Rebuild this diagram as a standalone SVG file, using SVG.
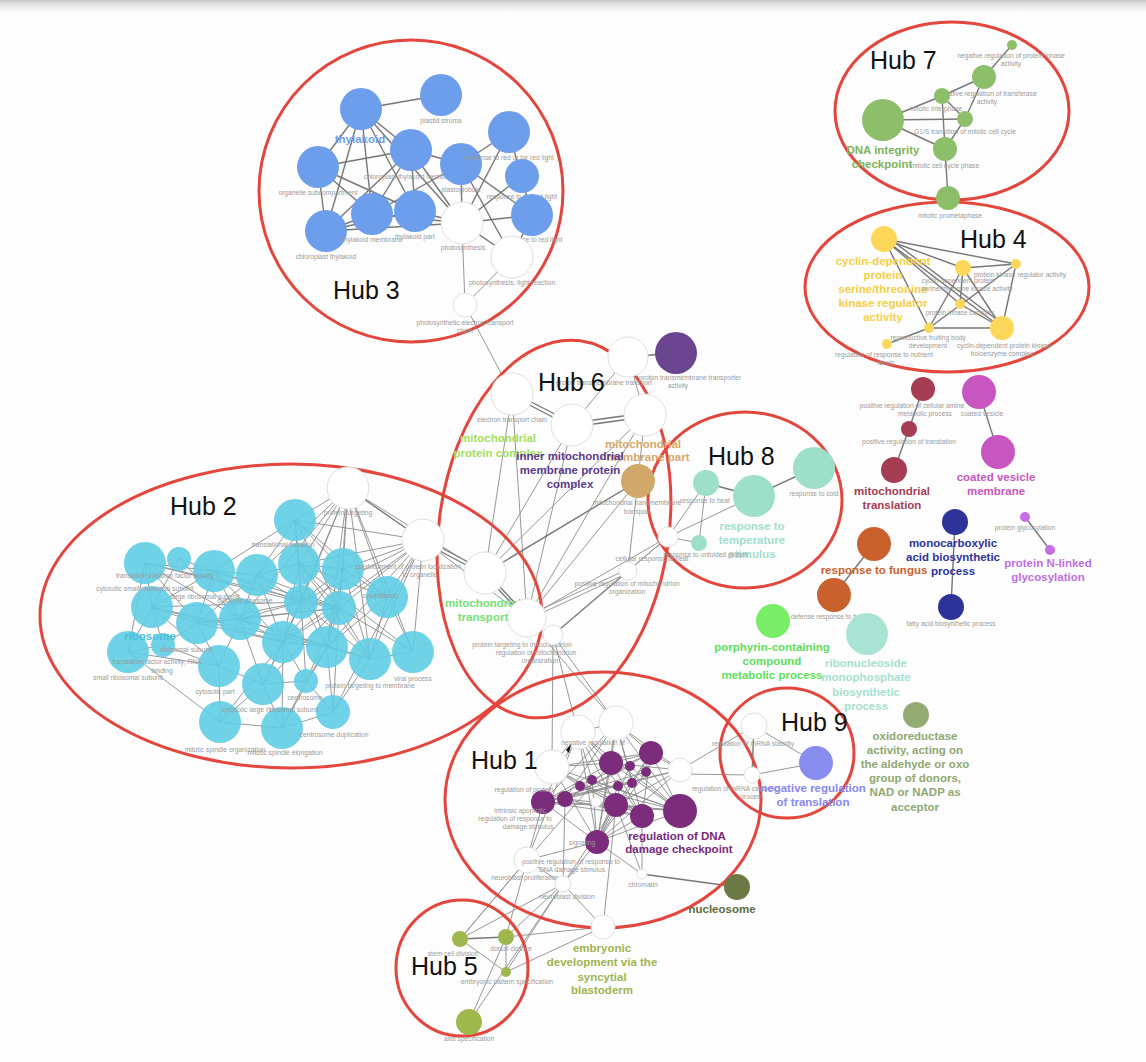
<svg xmlns="http://www.w3.org/2000/svg" width="1146" height="1062" viewBox="0 0 1146 1062">
<defs>
<linearGradient id="topshade" x1="0" y1="0" x2="0" y2="1">
<stop offset="0" stop-color="#c8c8c8"/>
<stop offset="1" stop-color="#ffffff" stop-opacity="0"/>
</linearGradient>
<style>
.e{stroke:#8c8c8c;stroke-width:0.9;fill:none}
.e2{stroke:#777;stroke-width:1.4;fill:none}
.hub{fill:none;stroke:#e3463c;stroke-width:3}
.wn{fill:#fff;stroke:#e0e0e0;stroke-width:1}
.cy{fill:#5fcde4;fill-opacity:0.9}
.bl{fill:#6d9eeb}
.pu{fill:#7b2d7c}
.gr{fill:#8dbf6a}
.ye{fill:#fcd75a}
.mi{fill:#9ddfc8}
.ol{fill:#9fb84e}
text{font-family:"Liberation Sans",Arial,Helvetica,sans-serif}
.l{font-size:6.7px;fill:#9b9b9b;text-anchor:middle}
.b{font-size:11.5px;font-weight:bold;text-anchor:middle}
.h{font-size:25px;fill:#111}
</style>
</defs>
<rect width="1146" height="1062" fill="#fdfdfd"/>
<rect width="1146" height="16" fill="url(#topshade)"/>

<g id="connectors">
<line class="e2" x1="361" y1="109" x2="441" y2="95"/>
<line class="e2" x1="361" y1="109" x2="318" y2="167"/>
<line class="e2" x1="361" y1="109" x2="411" y2="150"/>
<line class="e2" x1="361" y1="109" x2="326" y2="231"/>
<line class="e2" x1="361" y1="109" x2="372" y2="214"/>
<line class="e2" x1="361" y1="109" x2="415" y2="211"/>
<line class="e2" x1="361" y1="109" x2="462" y2="223"/>
<line class="e2" x1="318" y1="167" x2="411" y2="150"/>
<line class="e2" x1="318" y1="167" x2="326" y2="231"/>
<line class="e2" x1="318" y1="167" x2="372" y2="214"/>
<line class="e2" x1="318" y1="167" x2="415" y2="211"/>
<line class="e2" x1="411" y1="150" x2="326" y2="231"/>
<line class="e2" x1="411" y1="150" x2="372" y2="214"/>
<line class="e2" x1="411" y1="150" x2="415" y2="211"/>
<line class="e2" x1="411" y1="150" x2="461" y2="164"/>
<line class="e2" x1="411" y1="150" x2="462" y2="223"/>
<line class="e2" x1="326" y1="231" x2="372" y2="214"/>
<line class="e2" x1="326" y1="231" x2="415" y2="211"/>
<line class="e2" x1="326" y1="231" x2="462" y2="223"/>
<line class="e2" x1="372" y1="214" x2="461" y2="164"/>
<line class="e2" x1="372" y1="214" x2="462" y2="223"/>
<line class="e2" x1="415" y1="211" x2="462" y2="223"/>
<line class="e2" x1="461" y1="164" x2="462" y2="223"/>
<line class="e2" x1="461" y1="164" x2="509" y2="132"/>
<line class="e2" x1="461" y1="164" x2="512" y2="257"/>
<line class="e2" x1="461" y1="164" x2="532" y2="215"/>
<line class="e2" x1="509" y1="132" x2="532" y2="215"/>
<line class="e2" x1="509" y1="132" x2="462" y2="223"/>
<line class="e2" x1="522" y1="176" x2="462" y2="223"/>
<line class="e2" x1="532" y1="215" x2="462" y2="223"/>
<line class="e2" x1="532" y1="215" x2="512" y2="257"/>
<line class="e2" x1="462" y1="223" x2="512" y2="257"/>
<line class="e" x1="462" y1="223" x2="465" y2="305"/>
<line class="e" x1="512" y1="257" x2="465" y2="305"/>
<line class="e" x1="465" y1="305" x2="512" y2="394"/>
<line class="e2" x1="883" y1="120" x2="942" y2="96"/>
<line class="e2" x1="883" y1="120" x2="965" y2="119"/>
<line class="e2" x1="883" y1="120" x2="945" y2="149"/>
<line class="e2" x1="942" y1="96" x2="984" y2="77"/>
<line class="e2" x1="942" y1="96" x2="965" y2="119"/>
<line class="e2" x1="942" y1="96" x2="945" y2="149"/>
<line class="e2" x1="984" y1="77" x2="965" y2="119"/>
<line class="e2" x1="984" y1="77" x2="1012" y2="45"/>
<line class="e2" x1="965" y1="119" x2="945" y2="149"/>
<line class="e2" x1="945" y1="149" x2="948" y2="198"/>
<line class="e2" x1="884" y1="239" x2="963" y2="268"/>
<line class="e2" x1="884" y1="239" x2="1016" y2="264"/>
<line class="e2" x1="884" y1="239" x2="1002" y2="328"/>
<line class="e2" x1="886" y1="236" x2="1004" y2="325"/>
<line class="e2" x1="884" y1="239" x2="960" y2="304"/>
<line class="e2" x1="884" y1="239" x2="929" y2="328"/>
<line class="e2" x1="963" y1="268" x2="1016" y2="264"/>
<line class="e2" x1="963" y1="268" x2="960" y2="304"/>
<line class="e2" x1="963" y1="268" x2="1002" y2="328"/>
<line class="e2" x1="963" y1="268" x2="929" y2="328"/>
<line class="e2" x1="1016" y1="264" x2="929" y2="328"/>
<line class="e2" x1="1016" y1="264" x2="1002" y2="328"/>
<line class="e2" x1="960" y1="304" x2="1002" y2="328"/>
<line class="e2" x1="929" y1="328" x2="1002" y2="328"/>
<line class="e2" x1="929" y1="328" x2="887" y2="344"/>
<line class="e2" x1="923" y1="389" x2="909" y2="429"/>
<line class="e2" x1="909" y1="429" x2="894" y2="470"/>
<line class="e2" x1="979" y1="392" x2="998" y2="452"/>
<line class="e2" x1="955" y1="522" x2="951" y2="607"/>
<line class="e2" x1="1025" y1="517" x2="1050" y2="550"/>
<line class="e2" x1="874" y1="544" x2="834" y2="595"/>
<line class="e2" x1="512" y1="392" x2="572" y2="423"/>
<line class="e2" x1="512" y1="396" x2="572" y2="427"/>
<line class="e2" x1="572" y1="423" x2="645" y2="413"/>
<line class="e2" x1="572" y1="427" x2="645" y2="417"/>
<line class="e" x1="572" y1="425" x2="628" y2="357"/>
<line class="e2" x1="628" y1="357" x2="676" y2="353"/>
<line class="e" x1="628" y1="357" x2="645" y2="415"/>
<line class="e" x1="512" y1="394" x2="485" y2="573"/>
<line class="e" x1="512" y1="394" x2="527" y2="618"/>
<line class="e" x1="572" y1="425" x2="485" y2="573"/>
<line class="e" x1="572" y1="425" x2="527" y2="618"/>
<line class="e" x1="645" y1="415" x2="485" y2="573"/>
<line class="e" x1="645" y1="415" x2="527" y2="618"/>
<line class="e" x1="645" y1="415" x2="628" y2="571"/>
<line class="e2" x1="638" y1="481" x2="485" y2="573"/>
<line class="e" x1="638" y1="481" x2="527" y2="618"/>
<line class="e" x1="628" y1="569" x2="527" y2="616"/>
<line class="e" x1="628" y1="573" x2="527" y2="620"/>
<line class="e2" x1="628" y1="571" x2="553" y2="635"/>
<line class="e" x1="668" y1="537" x2="527" y2="618"/>
<line class="e" x1="668" y1="537" x2="553" y2="635"/>
<line class="e2" x1="485" y1="571" x2="527" y2="616"/>
<line class="e2" x1="485" y1="575" x2="527" y2="620"/>
<line class="e2" x1="423" y1="538" x2="485" y2="571"/>
<line class="e2" x1="423" y1="542" x2="485" y2="575"/>
<line class="e" x1="348" y1="488" x2="485" y2="573"/>
<line class="e" x1="423" y1="540" x2="527" y2="618"/>
<line class="e2" x1="706" y1="483" x2="754" y2="496"/>
<line class="e2" x1="754" y1="496" x2="814" y2="468"/>
<line class="e" x1="706" y1="483" x2="699" y2="543"/>
<line class="e" x1="706" y1="483" x2="668" y2="537"/>
<line class="e" x1="754" y1="496" x2="668" y2="537"/>
<line class="e" x1="699" y1="543" x2="668" y2="537"/>
<line class="e" x1="668" y1="537" x2="628" y2="571"/>
<line class="e" x1="145" y1="563" x2="214" y2="571"/>
<line class="e" x1="145" y1="563" x2="152" y2="607"/>
<line class="e" x1="145" y1="563" x2="197" y2="623"/>
<line class="e" x1="145" y1="563" x2="240" y2="619"/>
<line class="e" x1="145" y1="563" x2="301" y2="602"/>
<line class="e" x1="145" y1="563" x2="128" y2="652"/>
<line class="e" x1="179" y1="559" x2="152" y2="607"/>
<line class="e" x1="179" y1="559" x2="240" y2="619"/>
<line class="e" x1="179" y1="559" x2="214" y2="571"/>
<line class="e" x1="214" y1="571" x2="152" y2="607"/>
<line class="e" x1="214" y1="571" x2="197" y2="623"/>
<line class="e" x1="214" y1="571" x2="240" y2="619"/>
<line class="e" x1="214" y1="571" x2="301" y2="602"/>
<line class="e" x1="214" y1="571" x2="339" y2="608"/>
<line class="e" x1="214" y1="571" x2="257" y2="575"/>
<line class="e" x1="257" y1="575" x2="299" y2="564"/>
<line class="e" x1="257" y1="575" x2="197" y2="623"/>
<line class="e" x1="257" y1="575" x2="240" y2="619"/>
<line class="e" x1="257" y1="575" x2="301" y2="602"/>
<line class="e" x1="257" y1="575" x2="339" y2="608"/>
<line class="e" x1="257" y1="575" x2="283" y2="642"/>
<line class="e" x1="299" y1="564" x2="343" y2="569"/>
<line class="e" x1="299" y1="564" x2="301" y2="602"/>
<line class="e" x1="299" y1="564" x2="339" y2="608"/>
<line class="e" x1="299" y1="564" x2="283" y2="642"/>
<line class="e" x1="299" y1="564" x2="327" y2="647"/>
<line class="e" x1="299" y1="564" x2="387" y2="597"/>
<line class="e" x1="299" y1="564" x2="370" y2="659"/>
<line class="e" x1="343" y1="569" x2="301" y2="602"/>
<line class="e" x1="343" y1="569" x2="339" y2="608"/>
<line class="e" x1="343" y1="569" x2="387" y2="597"/>
<line class="e" x1="343" y1="569" x2="327" y2="647"/>
<line class="e" x1="343" y1="569" x2="370" y2="659"/>
<line class="e" x1="343" y1="569" x2="283" y2="642"/>
<line class="e" x1="295" y1="520" x2="299" y2="564"/>
<line class="e" x1="295" y1="520" x2="343" y2="569"/>
<line class="e" x1="295" y1="520" x2="301" y2="602"/>
<line class="e" x1="295" y1="520" x2="339" y2="608"/>
<line class="e" x1="295" y1="520" x2="257" y2="575"/>
<line class="e" x1="295" y1="520" x2="387" y2="597"/>
<line class="e" x1="295" y1="520" x2="214" y2="571"/>
<line class="e" x1="152" y1="607" x2="197" y2="623"/>
<line class="e" x1="152" y1="607" x2="128" y2="652"/>
<line class="e" x1="152" y1="607" x2="163" y2="645"/>
<line class="e" x1="152" y1="607" x2="301" y2="602"/>
<line class="e" x1="152" y1="607" x2="283" y2="642"/>
<line class="e" x1="152" y1="607" x2="219" y2="666"/>
<line class="e" x1="197" y1="623" x2="240" y2="619"/>
<line class="e" x1="197" y1="623" x2="301" y2="602"/>
<line class="e" x1="197" y1="623" x2="163" y2="645"/>
<line class="e" x1="197" y1="623" x2="219" y2="666"/>
<line class="e" x1="197" y1="623" x2="339" y2="608"/>
<line class="e" x1="197" y1="623" x2="283" y2="642"/>
<line class="e" x1="240" y1="619" x2="301" y2="602"/>
<line class="e" x1="240" y1="619" x2="339" y2="608"/>
<line class="e" x1="240" y1="619" x2="283" y2="642"/>
<line class="e" x1="240" y1="619" x2="219" y2="666"/>
<line class="e" x1="240" y1="619" x2="263" y2="684"/>
<line class="e" x1="240" y1="619" x2="327" y2="647"/>
<line class="e" x1="301" y1="602" x2="339" y2="608"/>
<line class="e" x1="301" y1="602" x2="283" y2="642"/>
<line class="e" x1="301" y1="602" x2="327" y2="647"/>
<line class="e" x1="301" y1="602" x2="263" y2="684"/>
<line class="e" x1="301" y1="602" x2="306" y2="681"/>
<line class="e" x1="301" y1="602" x2="370" y2="659"/>
<line class="e" x1="339" y1="608" x2="283" y2="642"/>
<line class="e" x1="339" y1="608" x2="327" y2="647"/>
<line class="e" x1="339" y1="608" x2="370" y2="659"/>
<line class="e" x1="339" y1="608" x2="413" y2="652"/>
<line class="e" x1="339" y1="608" x2="306" y2="681"/>
<line class="e" x1="339" y1="608" x2="333" y2="712"/>
<line class="e" x1="339" y1="608" x2="263" y2="684"/>
<line class="e" x1="387" y1="597" x2="327" y2="647"/>
<line class="e" x1="387" y1="597" x2="370" y2="659"/>
<line class="e" x1="387" y1="597" x2="413" y2="652"/>
<line class="e" x1="128" y1="652" x2="163" y2="645"/>
<line class="e" x1="128" y1="652" x2="219" y2="666"/>
<line class="e" x1="128" y1="652" x2="220" y2="722"/>
<line class="e" x1="163" y1="645" x2="219" y2="666"/>
<line class="e" x1="283" y1="642" x2="327" y2="647"/>
<line class="e" x1="283" y1="642" x2="263" y2="684"/>
<line class="e" x1="283" y1="642" x2="306" y2="681"/>
<line class="e" x1="283" y1="642" x2="220" y2="722"/>
<line class="e" x1="283" y1="642" x2="282" y2="728"/>
<line class="e" x1="327" y1="647" x2="370" y2="659"/>
<line class="e" x1="327" y1="647" x2="306" y2="681"/>
<line class="e" x1="327" y1="647" x2="333" y2="712"/>
<line class="e" x1="327" y1="647" x2="282" y2="728"/>
<line class="e" x1="370" y1="659" x2="413" y2="652"/>
<line class="e" x1="370" y1="659" x2="333" y2="712"/>
<line class="e" x1="219" y1="666" x2="263" y2="684"/>
<line class="e" x1="219" y1="666" x2="220" y2="722"/>
<line class="e" x1="263" y1="684" x2="306" y2="681"/>
<line class="e" x1="263" y1="684" x2="220" y2="722"/>
<line class="e" x1="263" y1="684" x2="282" y2="728"/>
<line class="e" x1="306" y1="681" x2="333" y2="712"/>
<line class="e" x1="306" y1="681" x2="282" y2="728"/>
<line class="e" x1="333" y1="712" x2="282" y2="728"/>
<line class="e" x1="220" y1="722" x2="282" y2="728"/>
<line class="e" x1="240" y1="619" x2="370" y2="659"/>
<line class="e" x1="214" y1="571" x2="283" y2="642"/>
<line class="e" x1="145" y1="563" x2="339" y2="608"/>
<line class="e" x1="152" y1="607" x2="327" y2="647"/>
<line class="e" x1="299" y1="564" x2="413" y2="652"/>
<line class="e" x1="348" y1="488" x2="299" y2="564"/>
<line class="e" x1="348" y1="488" x2="343" y2="569"/>
<line class="e" x1="348" y1="488" x2="295" y2="520"/>
<line class="e" x1="348" y1="488" x2="301" y2="602"/>
<line class="e" x1="348" y1="488" x2="339" y2="608"/>
<line class="e" x1="348" y1="488" x2="387" y2="597"/>
<line class="e" x1="348" y1="488" x2="283" y2="642"/>
<line class="e" x1="348" y1="488" x2="327" y2="647"/>
<line class="e" x1="348" y1="488" x2="370" y2="659"/>
<line class="e" x1="348" y1="488" x2="413" y2="652"/>
<line class="e" x1="348" y1="488" x2="257" y2="575"/>
<line class="e" x1="348" y1="488" x2="240" y2="619"/>
<line class="e2" x1="348" y1="488" x2="423" y2="540"/>
<line class="e" x1="423" y1="540" x2="343" y2="569"/>
<line class="e" x1="423" y1="540" x2="339" y2="608"/>
<line class="e" x1="423" y1="540" x2="387" y2="597"/>
<line class="e" x1="423" y1="540" x2="327" y2="647"/>
<line class="e" x1="423" y1="540" x2="370" y2="659"/>
<line class="e" x1="423" y1="540" x2="413" y2="652"/>
<line class="e" x1="423" y1="540" x2="301" y2="602"/>
<line class="e" x1="423" y1="540" x2="299" y2="564"/>
<line class="e" x1="423" y1="540" x2="283" y2="642"/>
<line class="e" x1="423" y1="540" x2="333" y2="712"/>
<line class="e" x1="423" y1="540" x2="295" y2="520"/>
<line class="e" x1="553" y1="635" x2="552" y2="767"/>
<line class="e" x1="553" y1="635" x2="578" y2="732"/>
<line class="e" x1="527" y1="618" x2="616" y2="723"/>
<line class="e" x1="553" y1="635" x2="616" y2="723"/>
<line class="e" x1="578" y1="732" x2="616" y2="723"/>
<line class="e" x1="578" y1="732" x2="552" y2="767"/>
<line class="e" x1="578" y1="732" x2="611" y2="763"/>
<line class="e" x1="578" y1="732" x2="592" y2="780"/>
<line class="e" x1="578" y1="732" x2="616" y2="805"/>
<line class="e" x1="578" y1="732" x2="642" y2="816"/>
<line class="e" x1="578" y1="732" x2="680" y2="811"/>
<line class="e" x1="578" y1="732" x2="543" y2="802"/>
<line class="e" x1="578" y1="732" x2="597" y2="842"/>
<line class="e" x1="616" y1="723" x2="651" y2="753"/>
<line class="e" x1="616" y1="723" x2="611" y2="763"/>
<line class="e" x1="616" y1="723" x2="680" y2="811"/>
<line class="e" x1="616" y1="723" x2="642" y2="816"/>
<line class="e" x1="616" y1="723" x2="565" y2="799"/>
<line class="e" x1="616" y1="723" x2="543" y2="802"/>
<line class="e" x1="616" y1="723" x2="597" y2="842"/>
<line class="e" x1="616" y1="723" x2="632" y2="783"/>
<line class="e" x1="616" y1="723" x2="680" y2="770"/>
<line class="e" x1="552" y1="767" x2="611" y2="763"/>
<line class="e" x1="552" y1="767" x2="616" y2="805"/>
<line class="e" x1="552" y1="767" x2="642" y2="816"/>
<line class="e" x1="552" y1="767" x2="680" y2="811"/>
<line class="e" x1="552" y1="767" x2="651" y2="753"/>
<line class="e" x1="552" y1="767" x2="597" y2="842"/>
<line class="e" x1="552" y1="767" x2="580" y2="786"/>
<line class="e" x1="680" y1="770" x2="651" y2="753"/>
<line class="e" x1="680" y1="770" x2="611" y2="763"/>
<line class="e" x1="680" y1="770" x2="616" y2="805"/>
<line class="e" x1="680" y1="770" x2="543" y2="802"/>
<line class="e" x1="680" y1="770" x2="597" y2="842"/>
<line class="e" x1="680" y1="770" x2="565" y2="799"/>
<line class="e" x1="651" y1="753" x2="611" y2="763"/>
<line class="e" x1="651" y1="753" x2="543" y2="802"/>
<line class="e" x1="651" y1="753" x2="565" y2="799"/>
<line class="e" x1="651" y1="753" x2="616" y2="805"/>
<line class="e" x1="651" y1="753" x2="642" y2="816"/>
<line class="e" x1="651" y1="753" x2="680" y2="811"/>
<line class="e" x1="651" y1="753" x2="597" y2="842"/>
<line class="e" x1="611" y1="763" x2="543" y2="802"/>
<line class="e" x1="611" y1="763" x2="642" y2="816"/>
<line class="e" x1="611" y1="763" x2="680" y2="811"/>
<line class="e" x1="611" y1="763" x2="597" y2="842"/>
<line class="e" x1="543" y1="802" x2="616" y2="805"/>
<line class="e" x1="543" y1="802" x2="642" y2="816"/>
<line class="e" x1="543" y1="802" x2="680" y2="811"/>
<line class="e" x1="543" y1="802" x2="597" y2="842"/>
<line class="e" x1="543" y1="802" x2="632" y2="783"/>
<line class="e" x1="543" y1="802" x2="646" y2="772"/>
<line class="e" x1="565" y1="799" x2="642" y2="816"/>
<line class="e" x1="565" y1="799" x2="680" y2="811"/>
<line class="e" x1="565" y1="799" x2="630" y2="766"/>
<line class="e" x1="616" y1="805" x2="680" y2="811"/>
<line class="e" x1="616" y1="805" x2="597" y2="842"/>
<line class="e" x1="642" y1="816" x2="597" y2="842"/>
<line class="e" x1="680" y1="811" x2="597" y2="842"/>
<line class="e" x1="680" y1="811" x2="580" y2="786"/>
<line class="e" x1="680" y1="811" x2="592" y2="780"/>
<line class="e" x1="680" y1="811" x2="630" y2="766"/>
<line class="e" x1="642" y1="816" x2="580" y2="786"/>
<line class="e" x1="642" y1="816" x2="592" y2="780"/>
<line class="e" x1="597" y1="842" x2="646" y2="772"/>
<line class="e" x1="597" y1="842" x2="630" y2="766"/>
<line class="e" x1="597" y1="842" x2="592" y2="780"/>
<line class="e" x1="597" y1="842" x2="618" y2="786"/>
<line class="e" x1="527" y1="860" x2="543" y2="802"/>
<line class="e" x1="527" y1="860" x2="597" y2="842"/>
<line class="e" x1="527" y1="860" x2="611" y2="763"/>
<line class="e" x1="527" y1="860" x2="578" y2="732"/>
<line class="e" x1="563" y1="884" x2="597" y2="842"/>
<line class="e" x1="563" y1="884" x2="565" y2="799"/>
<line class="e" x1="563" y1="884" x2="616" y2="805"/>
<line class="e" x1="563" y1="884" x2="527" y2="860"/>
<line class="e" x1="642" y1="874" x2="597" y2="842"/>
<line class="e" x1="642" y1="874" x2="642" y2="816"/>
<line class="e" x1="642" y1="874" x2="616" y2="805"/>
<line class="e2" x1="642" y1="874" x2="737" y2="887"/>
<line class="e" x1="680" y1="770" x2="754" y2="726"/>
<line class="e" x1="680" y1="774" x2="752" y2="775"/>
<line class="e" x1="754" y1="726" x2="816" y2="763"/>
<line class="e2" x1="754" y1="726" x2="752" y2="775"/>
<line class="e" x1="752" y1="775" x2="816" y2="763"/>
<line class="e" x1="527" y1="860" x2="460" y2="939"/>
<line class="e" x1="527" y1="860" x2="506" y2="937"/>
<line class="e" x1="563" y1="884" x2="460" y2="939"/>
<line class="e" x1="563" y1="884" x2="506" y2="937"/>
<line class="e" x1="563" y1="884" x2="506" y2="972"/>
<line class="e" x1="563" y1="884" x2="469" y2="1022"/>
<line class="e" x1="603" y1="927" x2="506" y2="937"/>
<line class="e" x1="603" y1="927" x2="506" y2="972"/>
<line class="e" x1="603" y1="927" x2="616" y2="805"/>
<line class="e" x1="603" y1="927" x2="563" y2="884"/>
<line class="e2" x1="460" y1="939" x2="506" y2="937"/>
<line class="e" x1="460" y1="939" x2="506" y2="972"/>
<line class="e" x1="506" y1="937" x2="506" y2="972"/>
<line class="e" x1="506" y1="937" x2="469" y2="1022"/>
<line class="e" x1="460" y1="939" x2="527" y2="860"/>
</g>

<g id="hubs">
<ellipse id="hub3" class="hub" cx="411" cy="191" rx="152" ry="151"/>
<ellipse id="hub7" class="hub" cx="952" cy="111" rx="117" ry="89"/>
<ellipse id="hub4" class="hub" cx="947" cy="287" rx="142" ry="85"/>
<ellipse id="hub6" class="hub" cx="554" cy="529" rx="115" ry="190" transform="rotate(8 554 529)"/>
<ellipse id="hub8" class="hub" cx="745" cy="500" rx="97" ry="88"/>
<ellipse id="hub2" class="hub" cx="291" cy="616" rx="251" ry="152"/>
<ellipse id="hub1" class="hub" cx="603" cy="800" rx="158" ry="128"/>
<ellipse id="hub9" class="hub" cx="787" cy="753" rx="67" ry="65"/>
<ellipse id="hub5" class="hub" cx="462" cy="968" rx="66" ry="68"/>
</g>

<g id="hub3-nodes">
<g id="n-thylakoid"><circle class="bl" cx="361" cy="109" r="21"/><text class="b" x="360" y="143" fill="#6d9eeb">thylakoid</text></g>
<g id="n-plastid-stroma"><circle class="bl" cx="441" cy="95" r="21"/><text class="l" x="441" y="123">plastid stroma</text></g>
<g id="n-organelle-sub"><circle class="bl" cx="318" cy="167" r="21"/><text class="l" x="318" y="195">organelle subcompartment</text></g>
<g id="n-ctm"><circle class="bl" cx="411" cy="150" r="21"/><text class="l" x="411" y="179">chloroplast thylakoid membrane</text></g>
<g id="n-plastoglobule"><circle class="bl" cx="461" cy="164" r="21"/><text class="l" x="461" y="192">plastoglobule</text></g>
<g id="n-rrfr"><circle class="bl" cx="509" cy="132" r="21"/><text class="l" x="509" y="160">response to red or far red light</text></g>
<g id="n-rfr"><circle class="bl" cx="522" cy="176" r="17"/><text class="l" x="522" y="199">response to far red light</text></g>
<g id="n-rr"><circle class="bl" cx="532" cy="215" r="21"/><text class="l" x="532" y="242">response to red light</text></g>
<g id="n-ct"><circle class="bl" cx="326" cy="231" r="21"/><text class="l" x="326" y="259">chloroplast thylakoid</text></g>
<g id="n-tm"><circle class="bl" cx="372" cy="214" r="21"/><text class="l" x="372" y="242">thylakoid membrane</text></g>
<g id="n-tp"><circle class="bl" cx="415" cy="211" r="21"/><text class="l" x="415" y="239">thylakoid part</text></g>
<g id="n-ps"><circle class="wn" cx="462" cy="223" r="21"/><text class="l" x="463" y="250">photosynthesis</text></g>
<g id="n-plr"><circle class="wn" cx="512" cy="257" r="21"/><text class="l" x="512" y="285">photosynthesis, light reaction</text></g>
<g id="n-petc"><circle class="wn" cx="465" cy="305" r="12"/><text class="l" x="465" y="325">photosynthetic electron transport</text><text class="l" x="465" y="333">chain</text></g>
</g>

<g id="hub7-nodes">
<g id="n-dna"><circle class="gr" cx="883" cy="120" r="21"/><text class="b" x="883" y="154" fill="#7db35a">DNA integrity</text><text class="b" x="882" y="168" fill="#7db35a">checkpoint</text></g>
<g id="n-npk"><circle class="gr" cx="1012" cy="45" r="5"/><text class="l" x="1011" y="58">negative regulation of protein kinase</text><text class="l" x="1011" y="66">activity</text></g>
<g id="n-nt"><circle class="gr" cx="984" cy="77" r="12"/><text class="l" x="987" y="96">negative regulation of transferase</text><text class="l" x="987" y="104">activity</text></g>
<g id="n-mi"><circle class="gr" cx="942" cy="96" r="8"/><text class="l" x="936" y="111">mitotic interphase</text></g>
<g id="n-g1"><circle class="gr" cx="965" cy="119" r="8"/><text class="l" x="965" y="134">G1/S transition of mitotic cell cycle</text></g>
<g id="n-cp"><circle class="gr" cx="945" cy="149" r="12"/><text class="l" x="945" y="168">mitotic cell cycle phase</text></g>
<g id="n-pm"><circle class="gr" cx="948" cy="198" r="12"/><text class="l" x="950" y="218">mitotic prometaphase</text></g>
</g>

<g id="hub4-nodes">
<g id="n-cdk-reg"><circle class="ye" cx="884" cy="239" r="13"/>
<text class="b" x="883" y="265" fill="#f5cf45">cyclin-dependent</text>
<text class="b" x="883" y="279" fill="#f5cf45">protein</text>
<text class="b" x="883" y="293" fill="#f5cf45">serine/threonine</text>
<text class="b" x="883" y="307" fill="#f5cf45">kinase regulator</text>
<text class="b" x="883" y="321" fill="#f5cf45">activity</text></g>
<g id="n-cdk-act"><circle class="ye" cx="963" cy="268" r="8"/><text class="l" x="958" y="283">cyclin-dependent protein</text><text class="l" x="967" y="291">serine/threonine kinase activity</text></g>
<g id="n-pkr"><circle class="ye" cx="1016" cy="264" r="5"/><text class="l" x="1020" y="277">protein kinase regulator activity</text></g>
<g id="n-pkc"><circle class="ye" cx="960" cy="304" r="5"/><text class="l" x="960" y="315">protein kinase complex</text></g>
<g id="n-rfb"><circle class="ye" cx="929" cy="328" r="5"/><text class="l" x="928" y="340">reproductive fruiting body</text><text class="l" x="928" y="348">development</text></g>
<g id="n-rrn"><circle class="ye" cx="887" cy="344" r="5"/><text class="l" x="884" y="357">regulation of response to nutrient</text><text class="l" x="886" y="365">levels</text></g>
<g id="n-holo"><circle class="ye" cx="1002" cy="328" r="12"/><text class="l" x="1004" y="348">cyclin-dependent protein kinase</text><text class="l" x="1002" y="356">holoenzyme complex</text></g>
</g>

<g id="right-nodes">
<g id="n-amine"><circle cx="923" cy="389" r="12" fill="#a53d55"/><text class="l" x="912" y="408">positive regulation of cellular amine</text><text class="l" x="925" y="416">metabolic process</text></g>
<g id="n-prt"><circle cx="909" cy="429" r="8" fill="#a53d55"/><text class="l" x="909" y="444">positive regulation of translation</text></g>
<g id="n-mt"><circle cx="894" cy="470" r="13" fill="#a53d55"/><text class="b" x="892" y="495" fill="#a53d55">mitochondrial</text><text class="b" x="892" y="509" fill="#a53d55">translation</text></g>
<g id="n-cv"><circle cx="979" cy="392" r="17" fill="#c756c0"/><text class="l" x="982" y="416">coated vesicle</text></g>
<g id="n-cvm"><circle cx="998" cy="452" r="17" fill="#c756c0"/><text class="b" x="996" y="481" fill="#c756c0">coated vesicle</text><text class="b" x="996" y="495" fill="#c756c0">membrane</text></g>
<g id="n-mono"><circle cx="955" cy="522" r="13" fill="#2e3399"/><text class="b" x="953" y="547" fill="#2e3399">monocarboxylic</text><text class="b" x="953" y="561" fill="#2e3399">acid biosynthetic</text><text class="b" x="953" y="575" fill="#2e3399">process</text></g>
<g id="n-fatty"><circle cx="951" cy="607" r="13" fill="#2e3399"/><text class="l" x="951" y="626">fatty acid biosynthetic process</text></g>
<g id="n-pg"><circle cx="1025" cy="517" r="5" fill="#c56ee0"/><text class="l" x="1025" y="530">protein glycosylation</text></g>
<g id="n-pnl"><circle cx="1050" cy="550" r="5" fill="#c56ee0"/><text class="b" x="1048" y="567" fill="#c06ee0">protein N-linked</text><text class="b" x="1048" y="581" fill="#c06ee0">glycosylation</text></g>
<g id="n-fungus"><circle cx="874" cy="544" r="17" fill="#c9612f"/><text class="b" x="874" y="574" fill="#c9612f">response to fungus</text></g>
<g id="n-defense"><circle cx="834" cy="595" r="17" fill="#c9612f"/><text class="l" x="832" y="619">defense response to fungus</text></g>
<g id="n-porph"><circle cx="773" cy="621" r="17" fill="#77ee66"/><text class="b" x="772" y="651" fill="#5ee05e">porphyrin-containing</text><text class="b" x="772" y="665" fill="#5ee05e">compound</text><text class="b" x="772" y="679" fill="#5ee05e">metabolic process</text></g>
<g id="n-ribo"><circle cx="867" cy="634" r="21" fill="#a9e3d3"/><text class="b" x="866" y="667" fill="#a8e0d0">ribonucleoside</text><text class="b" x="866" y="681" fill="#a8e0d0">monophosphate</text><text class="b" x="866" y="696" fill="#a8e0d0">biosynthetic</text><text class="b" x="866" y="710" fill="#a8e0d0">process</text></g>
<g id="n-oxido"><circle cx="916" cy="715" r="13" fill="#94ab74"/><text class="b" x="915" y="740" fill="#8fa870">oxidoreductase</text><text class="b" x="915" y="754" fill="#8fa870">activity, acting on</text><text class="b" x="915" y="768" fill="#8fa870">the aldehyde or oxo</text><text class="b" x="915" y="782" fill="#8fa870">group of donors,</text><text class="b" x="915" y="796" fill="#8fa870">NAD or NADP as</text><text class="b" x="915" y="811" fill="#8fa870">acceptor</text></g>
<g id="n-nucleosome"><circle cx="737" cy="887" r="13" fill="#6b7a45"/><text class="b" x="722" y="913" fill="#5c6b3c">nucleosome</text></g>
</g>

<g id="hub6-nodes">
<g id="n-etc"><circle class="wn" cx="512" cy="394" r="21"/><text class="l" x="512" y="422">electron transport chain</text></g>
<g id="n-ptt"><circle class="wn" cx="628" cy="357" r="20"/><text class="l" x="604" y="385">proton transmembrane transport</text></g>
<g id="n-ptta"><circle cx="676" cy="353" r="21" fill="#6b4590"/><text class="l" x="690" y="380">proton transmembrane transporter</text><text class="l" x="678" y="388">activity</text></g>
<g id="n-immpc"><circle class="wn" cx="572" cy="425" r="21"/></g>
<g id="n-mmp"><circle class="wn" cx="645" cy="415" r="21"/></g>
<g id="n-mtt"><circle cx="638" cy="481" r="17" fill="#d2a86a"/><text class="l" x="637" y="505">mitochondrial transmembrane</text><text class="l" x="637" y="514">transport</text></g>
<text class="b" x="498" y="442" fill="#a5e05a">mitochondrial</text>
<text class="b" x="498" y="457" fill="#a5e05a">protein complex</text>
<text class="b" x="643" y="448" fill="#d4a96a">mitochondrial</text>
<text class="b" x="648" y="461" fill="#d4a96a">membrane part</text>
<text class="b" x="570" y="460" fill="#5b3a8a">inner mitochondrial</text>
<text class="b" x="570" y="474" fill="#5b3a8a">membrane protein</text>
<text class="b" x="570" y="488" fill="#5b3a8a">complex</text>
<g id="n-mtrans"><circle class="wn" cx="485" cy="573" r="21"/><text class="b" x="483" y="607" fill="#77e077">mitochondrial</text><text class="b" x="483" y="621" fill="#77e077">transport</text></g>
<g id="n-ptm"><circle class="wn" cx="527" cy="618" r="19"/><text class="l" x="522" y="647">protein targeting to mitochondrion</text></g>
<g id="n-rmo"><circle class="wn" cx="553" cy="635" r="10"/><text class="l" x="536" y="655">regulation of mitochondrion</text><text class="l" x="540" y="663">organization</text></g>
<g id="n-prmo"><circle class="wn" cx="628" cy="571" r="9"/><text class="l" x="627" y="586">positive regulation of mitochondrion</text><text class="l" x="627" y="594">organization</text></g>
<g id="n-crh"><circle class="wn" cx="668" cy="537" r="10"/><text class="l" x="652" y="561">cellular response to heat</text></g>
</g>

<g id="hub8-nodes">
<g id="n-heat"><circle class="mi" cx="706" cy="483" r="13"/><text class="l" x="705" y="503">response to heat</text></g>
<g id="n-temp"><circle class="mi" cx="754" cy="496" r="21"/><text class="b" x="752" y="530" fill="#a1e0cd">response to</text><text class="b" x="752" y="544" fill="#a1e0cd">temperature</text><text class="b" x="752" y="558" fill="#a1e0cd">stimulus</text></g>
<g id="n-cold"><circle class="mi" cx="814" cy="468" r="21"/><text class="l" x="814" y="496">response to cold</text></g>
<g id="n-unf"><circle class="mi" cx="699" cy="543" r="8"/><text class="l" x="706" y="557">response to unfolded protein</text></g>
</g>

<g id="hub2-nodes">
<circle id="n-ptarg" class="wn" cx="348" cy="488" r="21"/>
<circle id="n-epl" class="wn" cx="423" cy="540" r="21"/>
<circle id="c7" class="cy" cx="295" cy="520" r="21"/>
<circle id="c1" class="cy" cx="145" cy="563" r="21"/>
<circle id="c2" class="cy" cx="179" cy="559" r="12"/>
<circle id="c3" class="cy" cx="214" cy="571" r="21"/>
<circle id="c4" class="cy" cx="257" cy="575" r="21"/>
<circle id="c5" class="cy" cx="299" cy="564" r="21"/>
<circle id="c6" class="cy" cx="343" cy="569" r="21"/>
<circle id="c8" class="cy" cx="152" cy="607" r="21"/>
<circle id="c9" class="cy" cx="197" cy="623" r="21"/>
<circle id="c10" class="cy" cx="240" cy="619" r="21"/>
<circle id="c11" class="cy" cx="301" cy="602" r="17"/>
<circle id="c12" class="cy" cx="339" cy="608" r="17"/>
<circle id="c13" class="cy" cx="387" cy="597" r="21"/>
<circle id="c14" class="cy" cx="128" cy="652" r="21"/>
<circle id="c15" class="cy" cx="163" cy="645" r="12"/>
<circle id="c16" class="cy" cx="283" cy="642" r="21"/>
<circle id="c17" class="cy" cx="327" cy="647" r="21"/>
<circle id="c18" class="cy" cx="370" cy="659" r="21"/>
<circle id="c19" class="cy" cx="413" cy="652" r="21"/>
<circle id="c20" class="cy" cx="219" cy="666" r="21"/>
<circle id="c21" class="cy" cx="263" cy="684" r="21"/>
<circle id="c22" class="cy" cx="306" cy="681" r="12"/>
<circle id="c23" class="cy" cx="333" cy="712" r="17"/>
<circle id="c24" class="cy" cx="220" cy="722" r="21"/>
<circle id="c25" class="cy" cx="282" cy="728" r="21"/>
<text class="l" x="348" y="515">protein targeting</text>
<text class="l" x="408" y="569">establishment of protein localization</text>
<text class="l" x="420" y="577">to organelle</text>
<text class="l" x="283" y="547">translational initiation</text>
<text class="l" x="165" y="578">translation initiation factor activity</text>
<text class="l" x="145" y="591">cytosolic small ribosomal subunit</text>
<text class="l" x="205" y="599">large ribosomal subunit</text>
<text class="l" x="245" y="603">cytosolic ribosome</text>
<text class="l" x="380" y="598">cytoplasmic</text>
<text class="b" x="150" y="640" fill="#4cbfdc">ribosome</text>
<text class="l" x="186" y="652">ribosomal subunit</text>
<text class="l" x="157" y="664">translation factor activity, RNA</text>
<text class="l" x="162" y="673">binding</text>
<text class="l" x="128" y="680">small ribosomal subunit</text>
<text class="l" x="215" y="694">cytosolic part</text>
<text class="l" x="270" y="712">cytosolic large ribosomal subunit</text>
<text class="l" x="305" y="700">centrosome</text>
<text class="l" x="413" y="681">viral process</text>
<text class="l" x="370" y="688">protein targeting to membrane</text>
<text class="l" x="334" y="737">centrosome duplication</text>
<text class="l" x="225" y="752">mitotic spindle organization</text>
<text class="l" x="285" y="755">mitotic spindle elongation</text>
</g>

<g id="hub1-nodes">
<circle id="h-nr" class="wn" cx="578" cy="732" r="17"/>
<circle id="h-w2" class="wn" cx="616" cy="723" r="17"/>
<circle id="h-w3" class="wn" cx="552" cy="767" r="17"/>
<circle id="h-w4" class="wn" cx="680" cy="770" r="12"/>
<circle id="p1" class="pu" cx="651" cy="753" r="12"/>
<circle id="p2" class="pu" cx="611" cy="763" r="12"/>
<circle id="p3" class="pu" cx="630" cy="766" r="5"/>
<circle id="p4" class="pu" cx="646" cy="772" r="5"/>
<circle id="p5" class="pu" cx="592" cy="780" r="5"/>
<circle id="p6" class="pu" cx="580" cy="786" r="5"/>
<circle id="p7" class="pu" cx="618" cy="786" r="5"/>
<circle id="p8" class="pu" cx="632" cy="783" r="5"/>
<circle id="p9" class="pu" cx="543" cy="802" r="12"/>
<circle id="p10" class="pu" cx="565" cy="799" r="8"/>
<circle id="p11" class="pu" cx="616" cy="805" r="12"/>
<circle id="p12" class="pu" cx="642" cy="816" r="12"/>
<circle id="p13" class="pu" cx="680" cy="811" r="17"/>
<circle id="p14" class="pu" cx="597" cy="842" r="12"/>
<circle id="h-w5" class="wn" cx="596" cy="802" r="5"/>
<text class="l" x="593" y="745">negative regulation of</text>
<text class="l" x="524" y="792">regulation of protein</text>
<text class="l" x="520" y="813">intrinsic apoptotic</text>
<text class="l" x="515" y="821">regulation of response to</text>
<text class="l" x="528" y="829">damage stimulus</text>
<text class="l" x="582" y="845">signaling</text>
<text class="b" x="677" y="840" fill="#7a2a7a">regulation of DNA</text>
<text class="b" x="679" y="853" fill="#7a2a7a">damage checkpoint</text>
<g id="n-nprol"><circle class="wn" cx="527" cy="860" r="13"/><text class="l" x="525" y="880">neuroblast proliferation</text></g>
<g id="n-ndiv"><circle class="wn" cx="563" cy="884" r="8"/><text class="l" x="567" y="899">neuroblast division</text></g>
<g id="n-chrom"><circle class="wn" cx="642" cy="874" r="5"/><text class="l" x="643" y="887">chromatin</text></g>
<text class="l" x="571" y="864">positive regulation of response to</text>
<text class="l" x="572" y="872">DNA damage stimulus</text>
<path d="M566 750 L571 744 L569 753 Z" fill="#111"/>
</g>

<g id="hub9-nodes">
<g id="n-mrs"><circle class="wn" cx="754" cy="726" r="13"/><text class="l" x="753" y="746">regulation of mRNA stability</text></g>
<g id="n-mrc"><circle class="wn" cx="752" cy="775" r="8"/><text class="l" x="735" y="791">regulation of mRNA catabolic</text><text class="l" x="752" y="799">process</text></g>
<g id="n-nrt"><circle cx="816" cy="763" r="17" fill="#8a8df0"/><text class="b" x="813" y="792" fill="#8888ee">negative regulation</text><text class="b" x="813" y="806" fill="#8888ee">of translation</text></g>
</g>

<g id="hub5-nodes">
<g id="n-scd"><circle class="ol" cx="460" cy="939" r="8"/><text class="l" x="453" y="956">stem cell division</text></g>
<g id="n-dc"><circle class="ol" cx="506" cy="937" r="8"/><text class="l" x="511" y="951">dorsal closure</text></g>
<g id="n-eps"><circle class="ol" cx="506" cy="972" r="5"/><text class="l" x="507" y="984">embryonic pattern specification</text></g>
<g id="n-axis"><circle class="ol" cx="469" cy="1022" r="13"/><text class="l" x="469" y="1041">axis specification</text></g>
<g id="n-edsb"><circle class="wn" cx="603" cy="927" r="12"/><text class="b" x="602" y="952" fill="#a0b450">embryonic</text><text class="b" x="602" y="966" fill="#a0b450">development via the</text><text class="b" x="602" y="981" fill="#a0b450">syncytial</text><text class="b" x="602" y="994" fill="#a0b450">blastoderm</text></g>
</g>

<g id="hub-labels">
<text class="h" x="333" y="299">Hub 3</text>
<text class="h" x="870" y="69">Hub 7</text>
<text class="h" x="960" y="248">Hub 4</text>
<text class="h" x="538" y="391">Hub 6</text>
<text class="h" x="708" y="465">Hub 8</text>
<text class="h" x="170" y="515">Hub 2</text>
<text class="h" x="471" y="769">Hub 1</text>
<text class="h" x="781" y="731">Hub 9</text>
<text class="h" x="411" y="975">Hub 5</text>
</g>
</svg>
